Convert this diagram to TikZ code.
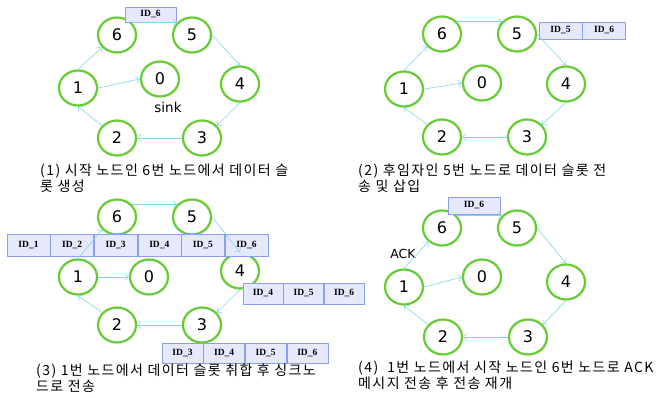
\documentclass[tikz,border=0pt]{standalone}
\usepackage{fontspec}
\setmainfont{DejaVu Sans}
\newfontfamily\krfont[LetterSpace=10]{Noto Sans CJK KR}
\newfontfamily\idfont{Liberation Serif}
\usetikzlibrary{shapes.geometric,positioning,arrows.meta}
\definecolor{ringgreen}{HTML}{66CC33}
\definecolor{linkcyan}{HTML}{80D4EC}
\definecolor{cellfill}{HTML}{E6E9FB}
\definecolor{cellline}{HTML}{8C9EF0}
\tikzset{
  sensor/.style={ellipse,draw=ringgreen,line width=2.2pt,fill=white,minimum width=38pt,minimum height=35pt,inner sep=0pt,font=\fontsize{16}{16}\selectfont},
  link/.style={draw=linkcyan,line width=0.6pt,-{Straight Barb[length=3.5pt,width=7pt]}},
  idcell/.style={draw=cellline,fill=cellfill,line width=0.6pt,minimum width=43pt,minimum height=20pt,inner sep=0pt,font=\idfont\bfseries\fontsize{9.5}{10}\selectfont},
  caption/.style={anchor=north west,inner sep=0pt,align=left,font=\krfont\fontsize{14}{16}\selectfont},
}
\begin{document}
\begin{tikzpicture}[x=1pt,y=-1pt]
\useasboundingbox (0,0) rectangle (656,398);

% (1)
\node[sensor] (a0) at (160,79) {0};
\node[sensor] (a1) at (78,88) {1};
\node[sensor] (a2) at (117,138) {2};
\node[sensor] (a3) at (202,138) {3};
\node[sensor] (a4) at (240,84) {4};
\node[sensor] (a5) at (192,35) {5};
\node[sensor] (a6) at (117,35) {6};
\node[font=\fontsize{13.5}{14}\selectfont] (asink) at (168,107) {sink};
\node[idcell,minimum width=51pt,minimum height=15pt] (aid6) at (150.5,14.5) {ID\_6};
\draw[link] (a6.40) -- (a5.140);
\draw[link] (a5.east) -- (a4.north);
\draw[link] (a4.south) -- (a3.40);
\draw[link] (a3.west) -- (a2.east);
\draw[link] (a2.140) -- (a1.south);
\draw[link] (a1.north) -- (a6.220);
\draw[link] (a1.east) -- (a0.west);
\node[caption] (acap) at (40,164) {(1) 시작 노드인 6번 노드에서 데이터 슬\\롯 생성};

% (2)
\node[sensor] (b0) at (482,83) {0};
\node[sensor] (b1) at (404,89) {1};
\node[sensor] (b2) at (442,137) {2};
\node[sensor] (b3) at (527,137) {3};
\node[sensor] (b4) at (566,84) {4};
\node[sensor] (b5) at (517,34) {5};
\node[sensor] (b6) at (442,34) {6};
\node[idcell,minimum height=17pt] (bid5) at (560.5,30.5) {ID\_5};
\node[idcell,minimum height=17pt,right=0pt of bid5] (bid6) {ID\_6};
\draw[link] (b6.40) -- (b5.140);
\draw[link] (b5.east) -- (b4.north);
\draw[link] (b4.south) -- (b3.40);
\draw[link] (b3.west) -- (b2.east);
\draw[link] (b2.140) -- (b1.south);
\draw[link] (b1.north) -- (b6.220);
\draw[link] (b1.east) -- (b0.west);
\node[caption] (bcap) at (358,164) {(2) 후임자인 5번 노드로 데이터 슬롯 전\\송 및 삽입};

% (3)
\node[sensor] (c0) at (149,277) {0};
\node[sensor] (c1) at (78,277) {1};
\node[sensor] (c2) at (117,325) {2};
\node[sensor] (c3) at (202,325) {3};
\node[sensor] (c4) at (240,271) {4};
\node[sensor] (c5) at (192,217) {5};
\node[sensor] (c6) at (117,217) {6};
\node[idcell,minimum height=22pt] (cid1) at (28.5,245) {ID\_1};
\node[idcell,minimum height=22pt,right=0pt of cid1] (cid2) {ID\_2};
\node[idcell,minimum height=22pt,right=0pt of cid2] (cid3) {ID\_3};
\node[idcell,minimum height=22pt,right=0pt of cid3] (cid4) {ID\_4};
\node[idcell,minimum height=22pt,right=0pt of cid4] (cid5) {ID\_5};
\node[idcell,minimum height=22pt,right=0pt of cid5] (cid6) {ID\_6};
\node[idcell,minimum width=40pt,minimum height=21pt] (did4) at (263,293.5) {ID\_4};
\node[idcell,minimum width=40pt,minimum height=21pt,right=0pt of did4] (did5) {ID\_5};
\node[idcell,minimum width=40pt,minimum height=21pt,right=0pt of did5] (did6) {ID\_6};
\node[idcell,minimum width=41pt] (eid3) at (182.5,353) {ID\_3};
\node[idcell,minimum width=41pt,right=0pt of eid3] (eid4) {ID\_4};
\node[idcell,minimum width=41pt,right=0pt of eid4] (eid5) {ID\_5};
\node[idcell,minimum width=41pt,right=0pt of eid5] (eid6) {ID\_6};
\draw[link] (c6.40) -- (c5.140);
\draw[link] (c5.east) -- (c4.north);
\draw[link] (c4.south) -- (c3.40);
\draw[link] (c3.west) -- (c2.east);
\draw[link] (c2.140) -- (c1.south);
\draw[link] (c1.north) -- (c6.220);
\draw[link] (c1.east) -- (c0.west);
\node[caption] (ccap) at (36,364) {(3) 1번 노드에서 데이터 슬롯 취합 후 싱크노\\드로 전송};

% (4)
\node[sensor] (d0) at (482,277) {0};
\node[sensor] (d1) at (404,287) {1};
\node[sensor] (d2) at (443,337) {2};
\node[sensor] (d3) at (528,337) {3};
\node[sensor] (d4) at (566,282) {4};
\node[sensor] (d5) at (517,228) {5};
\node[sensor] (d6) at (442,228) {6};
\node[idcell,minimum width=52pt,minimum height=17pt] (fid6) at (474,205.5) {ID\_6};
\node[font=\fontsize{12.5}{13}\selectfont] (dack) at (403,254) {ACK};
\draw[link] (d6.40) -- (d5.140);
\draw[link] (d5.east) -- (d4.north);
\draw[link] (d4.south) -- (d3.40);
\draw[link] (d3.west) -- (d2.east);
\draw[link] (d2.140) -- (d1.south);
\draw[link] (d1.north) -- (d6.225);
\draw[link] (d1.east) -- (d0.west);
\node[caption] (dcap) at (358,361) {(4)~~1번 노드에서 시작 노드인 6번 노드로 ACK\\메시지 전송 후 전송 재개};
\end{tikzpicture}
\end{document}
